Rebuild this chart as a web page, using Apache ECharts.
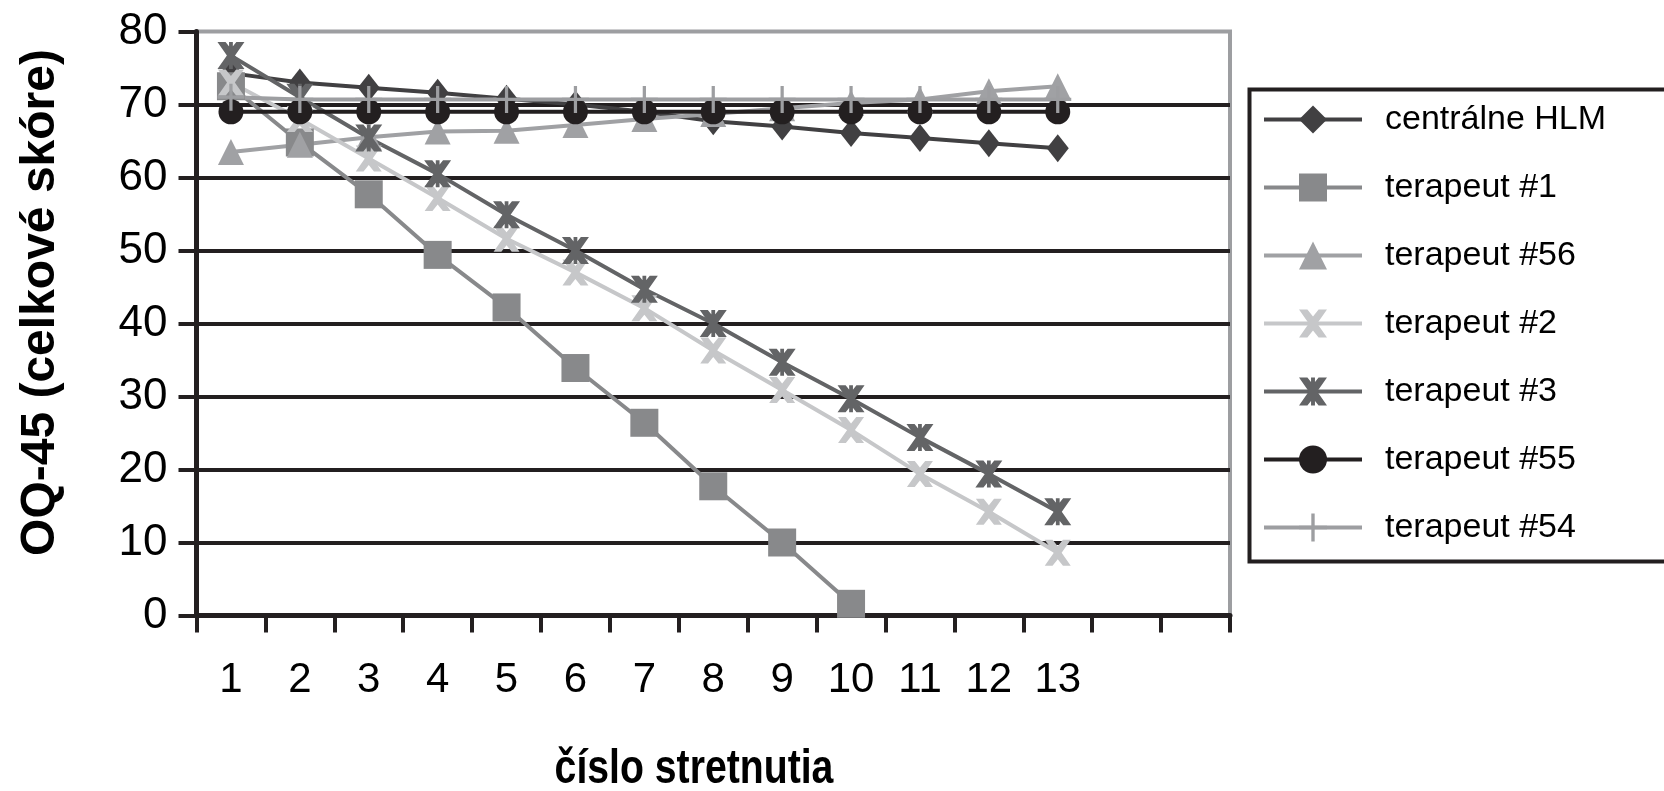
<!DOCTYPE html>
<html>
<head>
<meta charset="utf-8">
<script src="https://cdn.jsdelivr.net/npm/echarts@6/dist/echarts.min.js"></script>
<style>
html,body{margin:0;padding:0;background:#fff;}
#chart{width:1664px;height:791px;}
</style>
</head>
<body>
<div id="chart"></div>
<script>
// categories (session numbers); two trailing empty slots on the axis
const categories = ['1','2','3','4','5','6','7','8','9','10','11','12','13','',''];
const yTicks = [0,10,20,30,40,50,60,70,80];

const seriesNames = ['centrálne HLM','terapeut #1','terapeut #56','terapeut #2','terapeut #3','terapeut #55','terapeut #54'];
const xTitle = 'číslo stretnutia';
const yTitle = 'OQ-45 (celkové skóre)';

const hlm  = [74.3, 73.0, 72.3, 71.6, 70.8, 70.0, 69.0, 67.7, 67.0, 66.1, 65.4, 64.7, 64.0];
const t1   = [72.5, 64.8, 57.7, 49.4, 42.2, 33.9, 26.4, 17.7, 10.0, 1.6, null, null, null];
const t56  = [63.5, 64.5, 65.5, 66.3, 66.4, 67.2, 68.0, 68.7, 69.5, 70.2, 70.7, 71.8, 72.5];
const t2   = [73.0, 68.0, 62.6, 57.2, 51.6, 47.0, 42.1, 36.3, 30.9, 25.4, 19.4, 14.2, 8.6];
const t3   = [76.7, 71.0, 65.4, 60.5, 54.9, 50.0, 44.7, 40.0, 34.7, 29.7, 24.4, 19.4, 14.2];
const t55  = [69.0, 69.0, 69.0, 69.0, 69.0, 69.0, 69.0, 69.0, 69.0, 69.0, 69.0, 69.0, 69.0];
const t54  = [71.0, 70.7, 70.7, 70.7, 70.7, 70.7, 70.7, 70.7, 70.7, 70.7, 70.7, 70.7, 70.7];

const FONT = "'Liberation Sans', Arial, sans-serif";
const X_PATH = 'path://M0,0H3L5,2.5L7,0H10L6.5,5L10,10H7L5,7.5L3,10H0L3.5,5Z';
const STAR_PATH = 'path://M0,0H3L5,2.5L7,0H10L6.5,5L10,10H7L5,7.5L3,10H0L3.5,5Z M4.3,0H5.7V10H4.3Z';
const PLUS_PATH = 'path://M4.4,0H5.6V4.4H10V5.6H5.6V10H4.4V5.6H0V4.4H4.4Z';

function mk(name, data, color, symbol, size) {
  return {
    name: name, type: 'line', data: data,
    symbol: symbol, symbolSize: size, showAllSymbol: true,
    lineStyle: { color: color, width: 4 },
    itemStyle: { color: color, borderWidth: 0 },
    emphasis: { disabled: true },
    animation: false
  };
}

const chart = echarts.init(document.getElementById('chart'), null, { renderer: 'canvas' });
chart.setOption({
  animation: false,
  backgroundColor: '#ffffff',
  textStyle: { fontFamily: FONT },
  grid: {
    left: 196.5, right: 434, top: 31.5, bottom: 175.5,
    show: true, borderColor: '#9d9ea1', borderWidth: 4, backgroundColor: 'transparent'
  },
  graphic: [{
    type: 'rect', left: 1247, top: 87, z: 100,
    shape: { width: 500, height: 472 },
    style: { fill: 'none', stroke: '#231f20', lineWidth: 4 }
  }, {
    type: 'text', x: 694, y: 769, scaleX: 0.8, z: 100,
    style: { text: xTitle, font: "bold 49px 'Liberation Sans', Arial, sans-serif", fill: '#000', align: 'center', verticalAlign: 'middle' }
  }],
  legend: {
    orient: 'vertical', left: 1262, top: 102, padding: 0,
    itemWidth: 98, itemHeight: 35, itemGap: 33,
    data: seriesNames,
    lineStyle: { width: 4 },
    textStyle: { fontFamily: FONT, fontSize: 34, color: '#000', lineHeight: 35, padding: [0, 0, 0, 18] },
    selectedMode: false
  },
  xAxis: {
    type: 'category', data: categories, boundaryGap: true,
    axisLine: { show: true, lineStyle: { color: '#231f20', width: 5 } },
    axisTick: { show: true, length: 17, lineStyle: { color: '#231f20', width: 4 } },
    axisLabel: { interval: 0, margin: 44, fontSize: 42, color: '#000', fontFamily: FONT },
    splitLine: { show: false }
  },
  yAxis: {
    type: 'value', min: 0, max: 80, interval: 10,
    name: yTitle, nameLocation: 'middle', nameGap: 132, nameRotate: 90,
    nameTextStyle: { fontFamily: FONT, fontWeight: 'bold', fontSize: 48, color: '#000', padding: [0, 0, 0, 42] },
    axisLine: { show: true, lineStyle: { color: '#231f20', width: 5 } },
    axisTick: { show: true, length: 18, lineStyle: { color: '#231f20', width: 4 } },
    axisLabel: { margin: 29, fontSize: 44, color: '#000', fontFamily: FONT,
      formatter: function (v) { return yTicks.indexOf(v) >= 0 ? String(v) : ''; } },
    splitLine: { show: true, showMaxLine: false, lineStyle: { color: '#231f20', width: 4 } }
  },
  series: [
    mk(seriesNames[0], hlm, '#414042', 'diamond', [22, 28]),
    mk(seriesNames[1], t1,  '#88898b', 'rect', 28),
    mk(seriesNames[2], t56, '#a0a1a4', 'triangle', 26),
    mk(seriesNames[3], t2,  '#c6c7c9', X_PATH, 26),
    mk(seriesNames[4], t3,  '#636466', STAR_PATH, 27),
    mk(seriesNames[5], t55, '#231f20', 'circle', 25),
    mk(seriesNames[6], t54, '#9d9ea1', PLUS_PATH, 27)
  ]
});
</script>
</body>
</html>
